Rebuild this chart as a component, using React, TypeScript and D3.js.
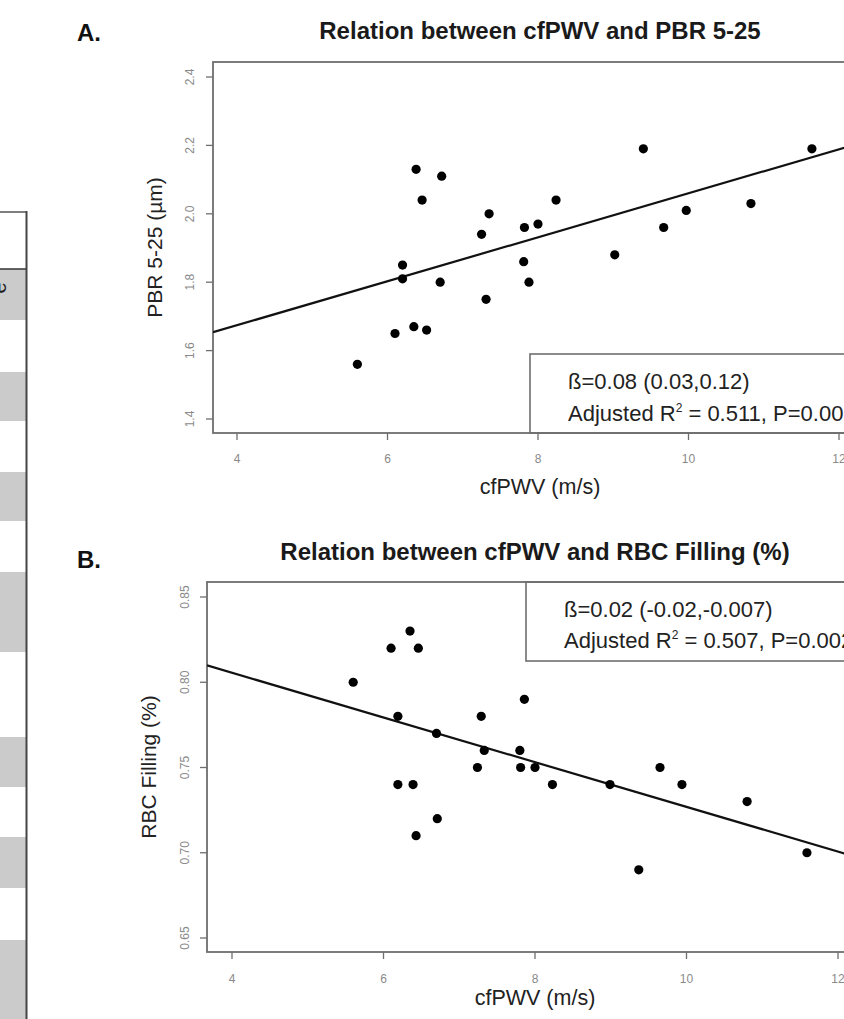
import React from "react";
import * as d3 from "d3";

// ---------- data ----------
const xTicks = [4, 6, 8, 10, 12];
const pbrTicks = [1.4, 1.6, 1.8, 2.0, 2.2, 2.4];
const rbcTicks = [0.65, 0.7, 0.75, 0.8, 0.85];

const cfpwvA = [5.6, 6.1, 6.2, 6.2, 6.38, 6.46, 6.35, 6.52, 6.72, 6.7, 7.25, 7.35, 7.31, 7.82, 8.0, 8.24, 7.81, 7.88, 9.02, 9.4, 9.67, 9.97, 10.83, 11.64];
const pbr = [1.56, 1.65, 1.85, 1.81, 2.13, 2.04, 1.67, 1.66, 2.11, 1.8, 1.94, 2.0, 1.75, 1.96, 1.97, 2.04, 1.86, 1.8, 1.88, 2.19, 1.96, 2.01, 2.03, 2.19];

const cfpwvB = [5.6, 6.1, 6.35, 6.46, 6.19, 6.19, 6.39, 6.43, 6.7, 6.71, 7.24, 7.29, 7.33, 7.8, 7.81, 7.86, 8.0, 8.23, 8.99, 9.37, 9.65, 9.94, 10.8, 11.59];
const rbc = [0.8, 0.82, 0.83, 0.82, 0.78, 0.74, 0.74, 0.71, 0.77, 0.72, 0.75, 0.78, 0.76, 0.76, 0.75, 0.79, 0.75, 0.74, 0.74, 0.69, 0.75, 0.74, 0.73, 0.7];

const fitA = [1.417, 0.0643]; // intercept, slope
const fitB = [0.858, -0.01311];

const legendA = ["ß=0.08 (0.03,0.12)", "0.511", "P=0.002"];
const legendB = ["ß=0.02 (-0.02,-0.007)", "0.507", "P=0.002"];

// decorative cropped table rows on the left (fill flags)
const tableRows = [
  [269, 320, 1], [320, 372, 0], [372, 421, 1], [421, 472, 0], [472, 521, 1],
  [521, 572, 0], [572, 652, 1], [652, 737, 0], [737, 787, 1], [787, 837, 0],
  [837, 888, 1], [888, 940, 0], [940, 1019, 1],
];

const FONT = "'Liberation Sans', Arial, Helvetica, sans-serif";

type PanelProps = {
  letter: string;
  letterY: number;
  title: string;
  titleX: number;
  titleY: number;
  box: { left: number; top: number; bottom: number };
  xRange: [number, number];
  yDomain: [number, number];
  yRange: [number, number];
  yTicks: number[];
  yFmt: (v: number) => string;
  ylab: string;
  ylabX: number;
  xs: number[];
  ys: number[];
  fit: number[];
  legend: string[];
  legendBox: { left: number; top: number; bottom: number };
  legendY: [number, number];
  legendTextX: number;
  xTitleX: number;
  xTitleY: number;
  xTickY: number;
  yTickX: number;
  id: string;
};

function Panel(p: PanelProps) {
  const x = d3.scaleLinear().domain([4, 12]).range(p.xRange);
  const y = d3.scaleLinear().domain(p.yDomain).range(p.yRange);
  const right = 880;
  const x0 = x.invert(p.box.left);
  const x1 = x.invert(right);
  const line = d3
    .line<number>()
    .x((d) => x(d))
    .y((d) => y(p.fit[0] + p.fit[1] * d));
  const axisCol = "#6e6e6e";
  return (
    <g>
      <text x={77} y={p.letterY} fontFamily={FONT} fontWeight="bold" fontSize={24} fill="#111">
        {p.letter}
      </text>
      <text x={p.titleX} y={p.titleY} textAnchor="middle" fontFamily={FONT} fontWeight="bold" fontSize={24} fill="#1a1a1a">
        {p.title}
      </text>
      <defs>
        <clipPath id={p.id}>
          <rect x={p.box.left} y={p.box.top} width={right - p.box.left} height={p.box.bottom - p.box.top} />
        </clipPath>
      </defs>
      {/* legend box */}
      <rect
        x={p.legendBox.left}
        y={p.legendBox.top}
        width={right - p.legendBox.left}
        height={p.legendBox.bottom - p.legendBox.top}
        fill="#fff"
        stroke={axisCol}
        strokeWidth={1.6}
      />
      <text x={p.legendTextX} y={p.legendY[0]} fontFamily={FONT} fontSize={22} fill="#222">
        {p.legend[0]}
      </text>
      <text x={p.legendTextX} y={p.legendY[1]} fontFamily={FONT} fontSize={22} fill="#222">
        {"Adjusted R"}
        <tspan dy={-9} fontSize={12}>2</tspan>
        <tspan dy={9}>{" = " + p.legend[1] + ", " + p.legend[2]}</tspan>
      </text>
      {/* plot box */}
      <rect
        x={p.box.left}
        y={p.box.top}
        width={right - p.box.left}
        height={p.box.bottom - p.box.top}
        fill="none"
        stroke={axisCol}
        strokeWidth={1.8}
      />
      {/* regression */}
      <path d={line([x0, x1]) || ""} stroke="#111" strokeWidth={2.2} fill="none" clipPath={`url(#${p.id})`} />
      {/* points */}
      {p.xs.map((v, i) => (
        <circle key={i} cx={x(v)} cy={y(p.ys[i])} r={4.6} fill="#000" />
      ))}
      {/* x ticks */}
      {xTicks.map((t) => (
        <g key={"x" + t}>
          <line x1={x(t)} x2={x(t)} y1={p.box.bottom} y2={p.box.bottom + 7} stroke={axisCol} strokeWidth={1.3} />
          <text x={x(t)} y={p.xTickY} textAnchor="middle" fontFamily={FONT} fontSize={12} fill="#8a8a8a">
            {t}
          </text>
        </g>
      ))}
      {/* y ticks */}
      {p.yTicks.map((t) => (
        <g key={"y" + t}>
          <line x1={p.box.left - 7} x2={p.box.left} y1={y(t)} y2={y(t)} stroke={axisCol} strokeWidth={1.3} />
          <text
            transform={`translate(${p.yTickX},${y(t)}) rotate(-90)`}
            textAnchor="middle"
            fontFamily={FONT}
            fontSize={12}
            fill="#8a8a8a"
          >
            {p.yFmt(t)}
          </text>
        </g>
      ))}
      <text x={p.xTitleX} y={p.xTitleY} textAnchor="middle" fontFamily={FONT} fontSize={21.5} fill="#222">
        cfPWV (m/s)
      </text>
      <text
        transform={`translate(${p.ylabX},${(p.box.top + p.box.bottom) / 2}) rotate(-90)`}
        textAnchor="middle"
        fontFamily={FONT}
        fontSize={21}
        fill="#222"
      >
        {p.ylab}
      </text>
    </g>
  );
}

export default function App() {
  return (
    <div style={{ position: "absolute", left: 0, top: 0, width: 844, height: 1019, overflow: "hidden", background: "#fff" }}>
      <svg width={844} height={1019} viewBox="0 0 844 1019" style={{ display: "block" }}>
        <rect x={0} y={0} width={844} height={1019} fill="#fff" />
        {/* cropped table fragment */}
        {tableRows.map((r, i) => (
          <rect key={i} x={0} y={r[0]} width={26} height={r[1] - r[0]} fill={r[2] ? "#cbcbcb" : "#fff"} />
        ))}
        <line x1={0} x2={27} y1={212} y2={212} stroke="#555" strokeWidth={1.5} />
        <line x1={0} x2={27} y1={269} y2={269} stroke="#333" strokeWidth={1.5} />
        <line x1={26.5} x2={26.5} y1={211} y2={1019} stroke="#444" strokeWidth={2} />
        <text transform="translate(6,288) rotate(-90)" textAnchor="middle" fontFamily={FONT} fontSize={20} fill="#222">
          e
        </text>

        <Panel
          id="clipA"
          letter="A."
          letterY={41}
          title="Relation between cfPWV and PBR 5-25"
          titleX={540}
          titleY={39}
          box={{ left: 213, top: 62, bottom: 433 }}
          xRange={[237, 839]}
          yDomain={[1.4, 2.4]}
          yRange={[419, 77]}
          yTicks={pbrTicks}
          yFmt={(v) => v.toFixed(1)}
          ylab="PBR 5-25 (µm)"
          ylabX={162}
          xs={cfpwvA}
          ys={pbr}
          fit={fitA}
          legend={legendA}
          legendBox={{ left: 530, top: 354, bottom: 433 }}
          legendY={[389, 421]}
          legendTextX={568}
          xTitleX={540}
          xTitleY={494}
          xTickY={463}
          yTickX={194}
        />
        <Panel
          id="clipB"
          letter="B."
          letterY={568}
          title="Relation between cfPWV and RBC Filling (%)"
          titleX={535}
          titleY={560}
          box={{ left: 207, top: 582, bottom: 952 }}
          xRange={[232, 838]}
          yDomain={[0.65, 0.85]}
          yRange={[938, 597]}
          yTicks={rbcTicks}
          yFmt={(v) => v.toFixed(2)}
          ylab="RBC Filling (%)"
          ylabX={156}
          xs={cfpwvB}
          ys={rbc}
          fit={fitB}
          legend={legendB}
          legendBox={{ left: 526, top: 582, bottom: 661 }}
          legendY={[617, 648]}
          legendTextX={564}
          xTitleX={535}
          xTitleY={1005}
          xTickY={983}
          yTickX={189}
        />
      </svg>
    </div>
  );
}
